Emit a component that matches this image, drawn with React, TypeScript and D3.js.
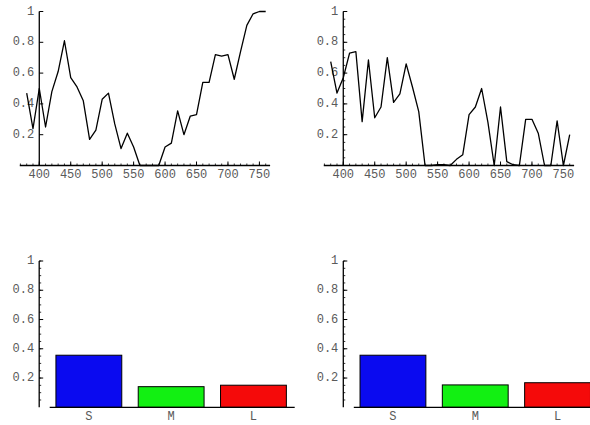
import React from "react";
import * as d3 from "d3";

// Spectral samples (nm) and two reflectance curves
const wavelengths = [
  380, 390, 400, 410, 420, 430, 440, 450, 460, 470, 480, 490, 500, 510, 520,
  530, 540, 550, 560, 570, 580, 590, 600, 610, 620, 630, 640, 650, 660, 670,
  680, 690, 700, 710, 720, 730, 740, 750, 760,
];

const reflectanceA = [
  0.47, 0.24, 0.5, 0.25, 0.48, 0.61, 0.81, 0.57, 0.51, 0.42, 0.17, 0.23, 0.43,
  0.47, 0.27, 0.11, 0.21, 0.12, 0, 0, 0, 0, 0.12, 0.145, 0.355, 0.2, 0.32, 0.33,
  0.54, 0.54, 0.72, 0.71, 0.72, 0.56, 0.74, 0.91, 0.985, 1.0, 1.0,
];

const reflectanceB = [
  0.675, 0.47, 0.57, 0.73, 0.74, 0.285, 0.685, 0.31, 0.38, 0.7, 0.41, 0.465,
  0.66, 0.51, 0.35, 0, 0, 0.005, 0.005, 0, 0.04, 0.07, 0.33, 0.38, 0.5, 0.28, 0,
  0.38, 0.025, 0.005, 0, 0.3, 0.3, 0.21, 0, 0, 0.29, 0, 0.2,
];

// Cone responses
const cones = ["S", "M", "L"];
const coneResponseA = [0.356, 0.141, 0.151];
const coneResponseB = [0.356, 0.153, 0.168];
const coneColors = ["#0a0af0", "#12f012", "#f50a0a"];

const xTicks = [400, 450, 500, 550, 600, 650, 700, 750];
const yTicks = [0.2, 0.4, 0.6, 0.8, 1];

const FONT = "'Liberation Mono', 'DejaVu Sans Mono', monospace";
const LABEL = "#5a5a5a";

function fmt(v: number) {
  return v === 1 ? "1" : d3.format(".1f")(v);
}

function YAxis({ x, y, minor }: { x: number; y: d3.ScaleLinear<number, number>; minor: boolean }) {
  const minors = minor ? d3.range(0.05, 1.0001, 0.05) : [];
  return (
    <g>
      <line x1={x} x2={x} y1={y(1)} y2={y(0)} stroke="#000" strokeWidth={1.3} />
      {minors.map((t) => (
        <line key={"m" + t} x1={x} x2={x + 2} y1={y(t)} y2={y(t)} stroke="#000" strokeWidth={0.8} />
      ))}
      {yTicks.map((t) => (
        <g key={t}>
          <line x1={x} x2={x + 4} y1={y(t)} y2={y(t)} stroke="#000" strokeWidth={1} />
          <text
            x={x - 5}
            y={y(t)}
            textAnchor="end"
            dominantBaseline="middle"
            fontFamily={FONT}
            fontSize={12}
            fill={LABEL}
          >
            {fmt(t)}
          </text>
        </g>
      ))}
    </g>
  );
}

function SpectrumPanel({ left, values, minorY }: { left: number; values: number[]; minorY: boolean }) {
  const x = d3.scaleLinear().domain([380, 760]).range([left, left + 239]);
  const y = d3.scaleLinear().domain([0, 1]).range([165.5, 11.5]);
  const line = d3
    .line<number>()
    .x((_, i) => x(wavelengths[i]))
    .y((d) => y(d));
  const minorX = d3.range(370, 766, 10);
  return (
    <g>
      <line x1={x(369)} x2={x(767)} y1={y(0)} y2={y(0)} stroke="#000" strokeWidth={1.3} />
      {minorX.map((t) => (
        <line key={"mx" + t} x1={x(t)} x2={x(t)} y1={y(0)} y2={y(0) - 2} stroke="#000" strokeWidth={0.8} />
      ))}
      {xTicks.map((t) => (
        <g key={t}>
          <line x1={x(t)} x2={x(t)} y1={y(0)} y2={y(0) - 4} stroke="#000" strokeWidth={1} />
          <text x={x(t)} y={y(0) + 12} textAnchor="middle" fontFamily={FONT} fontSize={12} fill={LABEL}>
            {t}
          </text>
        </g>
      ))}
      <YAxis x={x(400)} y={y} minor={minorY} />
      <path d={line(values) || ""} fill="none" stroke="#000" strokeWidth={1.3} strokeLinejoin="round" />
    </g>
  );
}

function ConePanel({ left, values }: { left: number; values: number[] }) {
  const x = d3.scaleBand<string>().domain(cones).range([left, left + 246.9]).paddingInner(0.2).paddingOuter(0.1);
  const y = d3.scaleLinear().domain([0, 1]).range([407.3, 261]);
  const axisX = left - 8.5;
  return (
    <g>
      {cones.map((c, i) => (
        <rect
          key={c}
          x={x(c)}
          y={y(values[i])}
          width={x.bandwidth()}
          height={y(0) - y(values[i])}
          fill={coneColors[i]}
          stroke="#000"
          strokeWidth={1}
        />
      ))}
      <line x1={left + 2} x2={Math.min(left + 247, 590)} y1={y(0)} y2={y(0)} stroke="#000" strokeWidth={1.3} />
      {cones.map((c) => (
        <text
          key={"l" + c}
          x={(x(c) || 0) + x.bandwidth() / 2}
          y={y(0) + 13}
          textAnchor="middle"
          fontFamily={FONT}
          fontSize={12}
          fill={LABEL}
        >
          {c}
        </text>
      ))}
      <YAxis x={axisX} y={y} minor={true} />
    </g>
  );
}

export default function App() {
  return (
    <svg
      width={590}
      height={425}
      viewBox="0 0 590 425"
      style={{ position: "absolute", left: 0, top: 0, display: "block", background: "#fff" }}
    >
      <rect width={590} height={425} fill="#fff" />
      <SpectrumPanel left={26.7} values={reflectanceA} minorY={false} />
      <SpectrumPanel left={330.7} values={reflectanceB} minorY={true} />
      <ConePanel left={47.7} values={coneResponseA} />
      <ConePanel left={351.8} values={coneResponseB} />
    </svg>
  );
}
